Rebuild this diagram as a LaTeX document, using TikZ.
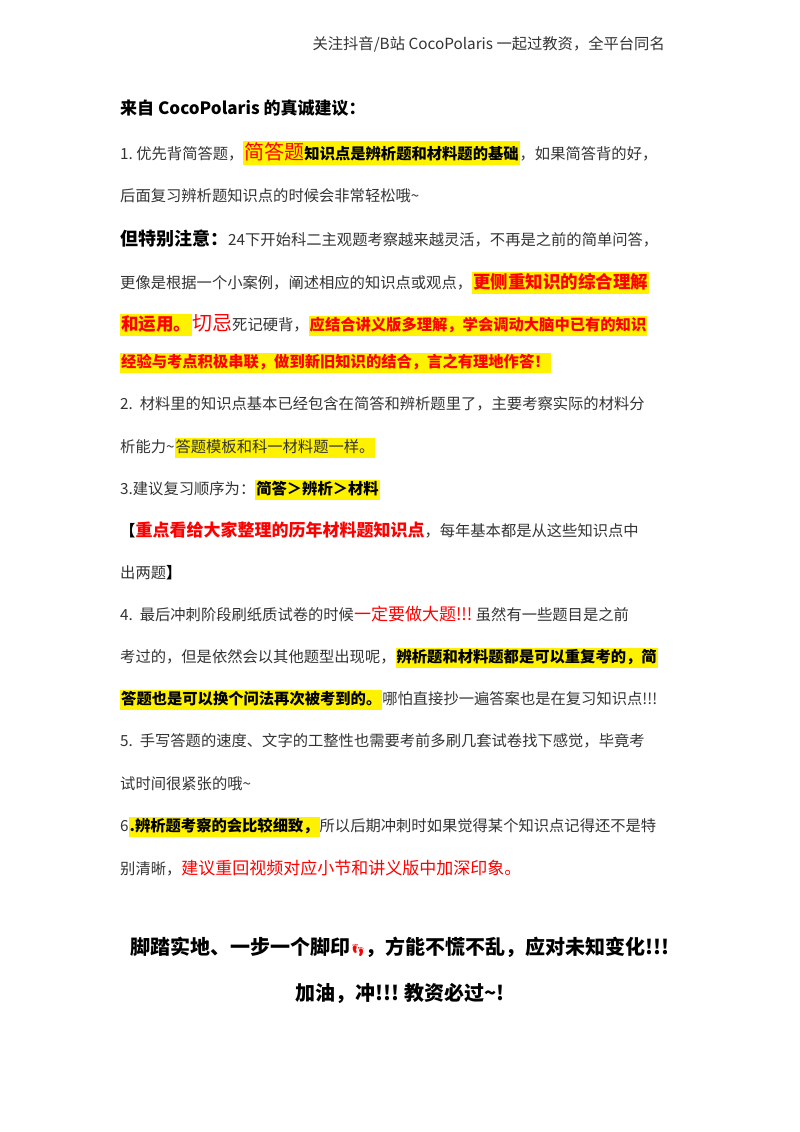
\documentclass[tikz,border=0pt]{standalone}
\usepackage{fontspec}
\setmainfont{Noto Sans CJK SC}
\newfontfamily\emo{Noto Emoji}
\newcommand{\hly}[1]{{\setlength{\fboxsep}{1pt}\colorbox{yellow}{\strut #1}}}
\newcommand{\rd}[1]{\textcolor{red}{#1}}
\tikzset{ln/.style={anchor=base west,inner sep=0pt,font=\fontsize{15.3}{17}\selectfont,text=black!80}}
\begin{document}
\begin{tikzpicture}[x=1pt,y=-1pt]
\useasboundingbox (0,0) rectangle (800,1132);
\node[ln,anchor=base east] (hd) at (665,50) {关注抖音/B站 CocoPolaris 一起过教资，全平台同名};
\node[ln,text=black,font=\fontsize{17}{18}\bfseries\selectfont] (t) at (120,114) {来自 CocoPolaris 的真诚建议：};
\node[ln] (l1) at (120,159) {1.\ 优先背简答题，\hly{\rd{\fontsize{20}{20}\selectfont 简答题}\textbf{\textcolor{black}{知识点是辨析题和材料题的基础}}}，如果简答背的好，};
\node[ln] (l2) at (120,201) {后面复习辨析题知识点的时候会非常轻松哦\textasciitilde};
\node[ln] (l3) at (120,245) {\textcolor{black}{\fontsize{18}{18}\bfseries\selectfont 但特别注意：}24下开始科二主观题考察越来越灵活，不再是之前的简单问答，};
\node[ln] (l4) at (120,288) {更像是根据一个小案例，阐述相应的知识点或观点，\hly{\rd{\fontsize{17.5}{18}\bfseries\selectfont 更侧重知识的综合理解}}};
\node[ln] (l5) at (120,330) {\hly{\rd{\fontsize{17.5}{18}\bfseries\selectfont 和运用。}}\rd{\fontsize{20}{20}\selectfont 切忌}死记硬背，\hly{\rd{\bfseries 应结合讲义版多理解，学会调动大脑中已有的知识}}};
\node[ln] (l6) at (120,367) {\hly{\rd{\bfseries 经验与考点积极串联，做到新旧知识的结合，言之有理地作答！}}};
\node[ln] (l7) at (120,409) {2.\ \ 材料里的知识点基本已经包含在简答和辨析题里了，主要考察实际的材料分};
\node[ln] (l8) at (120,452) {析能力\textasciitilde\hly{答题模板和科一材料题一样。}};
\node[ln] (l9) at (120,494) {3.建议复习顺序为：\hly{\textbf{\textcolor{black}{简答＞辨析＞材料}}}};
\node[ln] (l10) at (120,536) {\textcolor{black}{\bfseries【}\rd{\fontsize{17}{18}\bfseries\selectfont 重点看给大家整理的历年材料题知识点}，每年基本都是从这些知识点中};
\node[ln] (l11) at (120,578) {出两题\textcolor{black}{\bfseries】}};
\node[ln] (l12) at (120,620) {4.\ \ 最后冲刺阶段刷纸质试卷的时候\rd{\fontsize{17}{18}\selectfont 一定要做大题!!!}\ 虽然有一些题目是之前};
\node[ln] (l13) at (120,662) {考过的，但是依然会以其他题型出现呢，\hly{\textbf{\textcolor{black}{辨析题和材料题都是可以重复考的，简}}}};
\node[ln] (l14) at (120,704) {\hly{\textbf{\textcolor{black}{答题也是可以换个问法再次被考到的。}}}哪怕直接抄一遍答案也是在复习知识点!!!};
\node[ln] (l15) at (120,746) {5.\ \ 手写答题的速度、文字的工整性也需要考前多刷几套试卷找下感觉，毕竟考};
\node[ln] (l16) at (120,789) {试时间很紧张的哦\textasciitilde};
\node[ln] (l17) at (120,831) {6\hly{\textbf{\textcolor{black}{.辨析题考察的会比较细致，}}}所以后期冲刺时如果觉得某个知识点记得还不是特};
\node[ln] (l18) at (120,874) {别清晰，\rd{\fontsize{17}{18}\selectfont 建议重回视频对应小节和讲义版中加深印象。}};
\node[ln,anchor=base,text=black,font=\fontsize{20}{22}\bfseries\selectfont] (f1) at (400,954) {脚踏实地、一步一个脚印{\emo\fontsize{12}{12}\selectfont\rd{👣}}，方能不慌不乱，应对未知变化!!!};
\node[ln,anchor=base,text=black,font=\fontsize{20}{22}\bfseries\selectfont] (f2) at (400,1000) {加油，冲!!!\ 教资必过\textasciitilde!};
\end{tikzpicture}
\end{document}
